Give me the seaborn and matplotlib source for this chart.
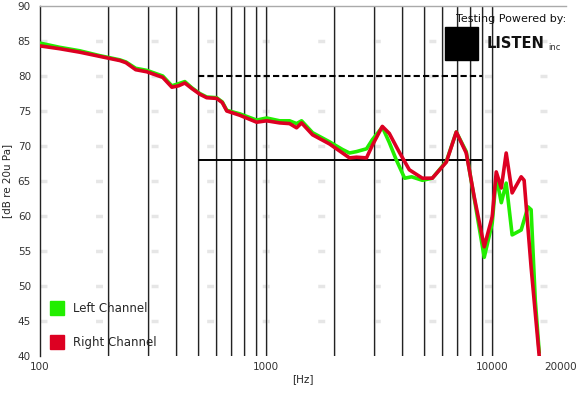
import matplotlib
matplotlib.use("Agg")
import matplotlib.pyplot as plt
import seaborn as sns
import pandas as pd
from matplotlib.lines import Line2D
from matplotlib.patches import Rectangle

# ---- data ----
left_freq = [100, 122, 150, 184, 204, 226, 240, 265, 297, 349, 383, 410, 437, 470, 509, 546, 604, 640, 670,
             764, 908, 1005, 1148, 1270, 1364, 1435, 1605, 1906, 2177, 2338, 2510, 2780, 2950, 3266, 3506,
             3767, 4100, 4400, 4910, 5433, 6268, 6935, 7675, 8330, 9220, 10000, 10420, 10970, 11530, 12250,
             13430, 14400, 14860, 15500, 16140]
left_db = [84.7, 84.1, 83.6, 82.9, 82.6, 82.3, 82.0, 81.1, 80.8, 80.0, 78.6, 78.9, 79.2, 78.3, 77.5, 77.0,
           76.9, 76.3, 75.1, 74.6, 73.7, 74.0, 73.6, 73.6, 73.2, 73.6, 71.9, 70.6, 69.5, 69.0, 69.2, 69.6,
           70.9, 72.7, 70.5, 68.0, 65.4, 65.6, 65.1, 65.4, 67.8, 72.0, 69.2, 62.5, 54.1, 59.0, 65.6, 61.9,
           64.7, 57.3, 58.0, 61.3, 60.9, 48.0, 40.5]

right_freq = [100, 122, 150, 184, 204, 226, 240, 265, 297, 349, 383, 410, 437, 470, 509, 546, 604, 640, 670,
              764, 908, 1005, 1148, 1270, 1364, 1435, 1605, 1906, 2177, 2338, 2510, 2780, 2950, 3266, 3506,
              3767, 3885, 4300, 4910, 5433, 6268, 6935, 7675, 8330, 9220, 10000, 10420, 10970, 11530, 12250,
              13430, 13840, 14860, 16140]
right_db = [84.3, 83.9, 83.4, 82.8, 82.5, 82.2, 81.9, 80.9, 80.6, 79.8, 78.4, 78.6, 79.0, 78.2, 77.4, 76.9,
            76.8, 76.2, 75.0, 74.4, 73.4, 73.6, 73.3, 73.2, 72.6, 73.3, 71.6, 70.3, 69.0, 68.3, 68.4, 68.3,
            70.1, 72.8, 71.8, 69.9, 69.1, 66.6, 65.4, 65.4, 67.7, 72.0, 69.0, 62.7, 55.6, 59.9, 66.3, 64.0,
            69.0, 63.3, 65.6, 65.1, 52.7, 40.0]

channels = ["Left Channel", "Right Channel"]
colors = ["#22ee00", "#dd0022"]

limit_freq = [500, 9000]
upper_limit = 80
lower_limit = 68

x_ticks = [100, 1000, 10000, 20000]
x_ticklabels = ["100", "1000", "10000", "20000"]
y_ticks = [40, 45, 50, 55, 60, 65, 70, 75, 80, 85, 90]

# ---- build table ----
df = pd.concat([
    pd.DataFrame({"freq": left_freq, "db": left_db, "channel": channels[0]}),
    pd.DataFrame({"freq": right_freq, "db": right_db, "channel": channels[1]}),
], ignore_index=True)

sns.set_style("white")
plt.rcParams["font.family"] = ["DejaVu Sans"]

fig = plt.figure(figsize=(5.83, 3.95), dpi=100)
ax = fig.add_axes([40 / 583, 1 - 356 / 395, (566 - 40) / 583, 350 / 395])

# vertical grid lines (minor decades)
grid_f = [200, 300, 400, 500, 600, 700, 800, 900, 1000, 2000, 3000, 4000, 5000, 6000, 7000, 8000, 9000, 10000]
for f in grid_f:
    ax.axvline(f, color="#222222", lw=0.9, zorder=1)
    ax.axvline(f * 1.012, color="#cccccc", lw=0.6, zorder=0.9)
# faint dashed horizontal grid
for yv in y_ticks[1:-1]:
    ax.axhline(yv, color="#e6e6e6", lw=2.5, ls=(0, (2, 14)), zorder=0.5)

# limit lines
ax.hlines(upper_limit, limit_freq[0], limit_freq[1], colors="black", lw=1.5, ls=(0, (3, 1.5)), zorder=2)
ax.hlines(lower_limit, limit_freq[0], limit_freq[1], colors="black", lw=1.4, zorder=2)

sns.lineplot(data=df, x="freq", y="db", hue="channel", palette=dict(zip(channels, colors)),
             sort=False, estimator=None, lw=2.6, legend=False, ax=ax, zorder=3)

ax.set_xscale("log")
ax.set_xlim(100, 21200)
ax.set_ylim(40, 90)
ax.set_xticks(x_ticks)
ax.set_xticklabels(x_ticklabels)
ax.xaxis.set_minor_locator(matplotlib.ticker.NullLocator())
ax.set_yticks(y_ticks)
ax.tick_params(axis="both", labelsize=7.5, colors="#333333", length=3, width=0.8)
ax.tick_params(axis="x", length=0, pad=4)
ax.set_xlabel("[Hz]", fontsize=7.5, labelpad=2)
ax.set_ylabel("[dB re 20u Pa]", fontsize=7.5, labelpad=4)

for s in ["right", "bottom"]:
    ax.spines[s].set_visible(False)
ax.spines["left"].set_color("#222222")
ax.spines["left"].set_linewidth(1.0)
ax.spines["top"].set_color("#aaaaaa")
ax.spines["top"].set_linewidth(1.0)

# legend
handles = [Line2D([], [], ls="none", marker="s", markersize=10, markerfacecolor=c,
                  markeredgecolor=c, label=l) for l, c in zip(channels, colors)]
ax.legend(handles=handles, loc="lower left", bbox_to_anchor=(-0.005, -0.005), frameon=False,
          fontsize=8.5, handletextpad=0.3, labelspacing=1.8, borderaxespad=0.3)

# logo
fig.text(566 / 583, 1 - 19 / 395, "Testing Powered by:", ha="right", va="center", fontsize=8, color="#111111")
fig.patches.append(Rectangle((445 / 583, 1 - 60 / 395), 33 / 583, 33 / 395, transform=fig.transFigure,
                             facecolor="black", edgecolor="black", zorder=5))
fig.text(487 / 583, 1 - 44 / 395, "LISTEN", ha="left", va="center", fontsize=10.5, fontweight="bold",
         color="#111111")
fig.text(548 / 583, 1 - 47 / 395, "inc", ha="left", va="center", fontsize=6, color="#333333")

fig.savefig("out.png", dpi=100, facecolor="white")
